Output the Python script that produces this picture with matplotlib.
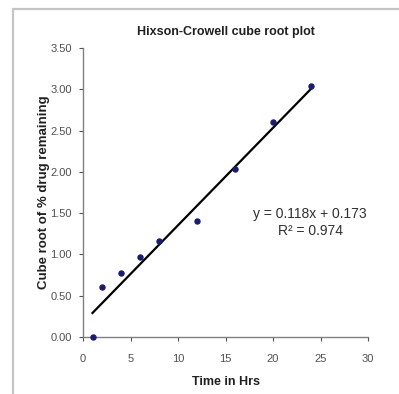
import numpy as np
import matplotlib
matplotlib.use("Agg")
import matplotlib.pyplot as plt
from matplotlib.patches import Rectangle

# Data
time_hrs = [1, 2, 4, 6, 8, 12, 16, 20, 24]
cube_root = [0.00, 0.60, 0.78, 0.97, 1.16, 1.40, 2.04, 2.60, 3.04]
slope, intercept = 0.118, 0.173
x_ticks = [0, 5, 10, 15, 20, 25, 30]
y_ticks = [0.0, 0.5, 1.0, 1.5, 2.0, 2.5, 3.0, 3.5]

plt.rcParams["font.family"] = ["Liberation Sans", "DejaVu Sans"]

fig = plt.figure(figsize=(3.99, 3.94), dpi=100)
# chart area outline (Excel style)
fig.patches.append(Rectangle((13 / 399, -0.1), 1.2, 1 - 8.5 / 394 + 0.1,
                             transform=fig.transFigure, fill=False,
                             edgecolor="#c4c4c4", linewidth=1.6))

ax = fig.add_axes([83 / 399, 1 - 337 / 394, 285 / 399, 289 / 394])

trend_x = np.array([time_hrs[0], time_hrs[-1]])
ax.plot(trend_x, slope * trend_x + intercept, color="black", linewidth=1.6, zorder=2)
ax.scatter(time_hrs, cube_root, marker="o", s=13, color="#1c1c6e", zorder=3, clip_on=False)

ax.set_xlim(0, 30)
ax.set_ylim(0, 3.5)
ax.set_xticks(x_ticks)
ax.set_yticks(y_ticks)
ax.set_yticklabels([f"{v:.2f}" for v in y_ticks])
ax.tick_params(labelsize=8, colors="#505050", length=3, width=0.8, direction="out", pad=5)
ax.tick_params(axis="x", pad=9)
for side in ("top", "right"):
    ax.spines[side].set_visible(False)
for side in ("left", "bottom"):
    ax.spines[side].set_color("#808080")
    ax.spines[side].set_linewidth(1.0)

ax.set_title("Hixson-Crowell cube root plot", fontsize=9, fontweight="bold", pad=9,
             color="#202020")
ax.set_xlabel("Time in Hrs", fontsize=9, fontweight="bold", labelpad=9, color="#202020")
ax.set_ylabel("Cube root of % drug remaining", fontsize=9.5, fontweight="bold", labelpad=0,
              color="#202020")

ax.text(23.9, 1.39, f"y = {slope}x + {intercept}\nR² = 0.974", fontsize=10,
        ha="center", va="center", linespacing=1.3, color="#303030")

fig.savefig("out.png", dpi=100)
